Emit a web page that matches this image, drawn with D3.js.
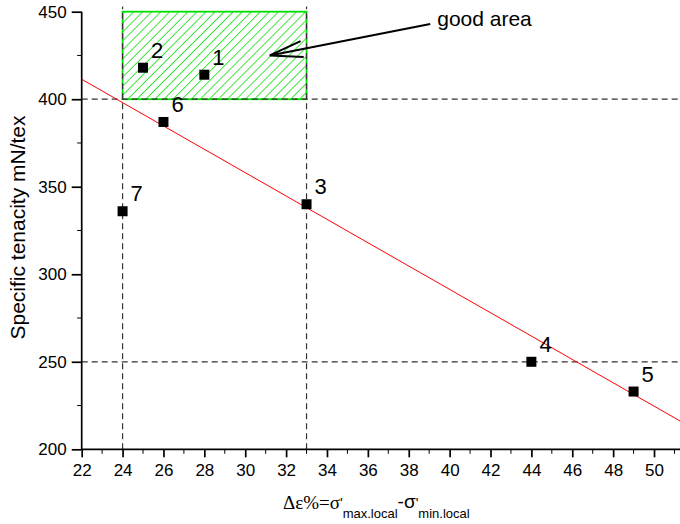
<!DOCTYPE html>
<html>
<head>
<meta charset="utf-8">
<script src="https://cdn.jsdelivr.net/npm/d3@7"></script>
<style>
  body { margin: 0; background: #fff; }
  svg { display: block; font-family: Arial, "Liberation Sans", sans-serif; }
</style>
</head>
<body>
<div id="chart"></div>
<script>
// data
var sampleIds = ["1", "2", "3", "4", "5", "6", "7"];
var strainDiff = [28, 25, 33, 44, 49, 26, 24];
var tenacity = [414, 418, 340, 250, 233, 387, 336];

// fitted red line, two end points [x, y]
var fitStart = [22, 411.4];
var fitEnd = [51.3, 216];

// guide lines
var guideX = [24, 33];
var guideY = [400, 250];

// "good area" box [x0, x1, y0, y1]
var goodBox = [24, 33, 400, 450];
var arrowTail = [39.05, 443];
var arrowTip = [31.2, 425];
var noteText = "good area";

var xTicks = d3.range(22, 51, 2);
var xMinor = d3.range(23, 52, 2);
var yTicks = [200, 250, 300, 350, 400, 450];
var yMinor = [225, 275, 325, 375, 425];

function init() {
    var width = 680;
    var height = 524;

    var x = d3.scaleLinear().domain([22, 51.3]).range([81.7, 680.6]);
    var y = d3.scaleLinear().domain([200, 450]).range([449.3, 11.7]);

    var svg = d3.select("#chart")
        .append("svg")
        .attr("width", width)
        .attr("height", height);

    // hatch for the good area
    var pat = svg.append("defs").append("pattern")
        .attr("id", "hatch")
        .attr("patternUnits", "userSpaceOnUse")
        .attr("width", 6.4)
        .attr("height", 6.4)
        .attr("patternTransform", "rotate(45)");
    pat.append("line")
        .attr("x1", 0).attr("y1", 0)
        .attr("x2", 0).attr("y2", 6.4)
        .attr("stroke", "#00e000")
        .attr("stroke-width", 1.5);

    svg.append("rect")
        .attr("x", x(goodBox[0]))
        .attr("y", y(goodBox[3]))
        .attr("width", x(goodBox[1]) - x(goodBox[0]))
        .attr("height", y(goodBox[2]) - y(goodBox[3]))
        .attr("fill", "url(#hatch)")
        .attr("stroke", "#00e000")
        .attr("stroke-width", 1.8);

    // dashed guides
    svg.selectAll(".vguide")
        .data(guideX)
        .enter()
        .append("line")
        .attr("x1", function (d) { return x(d); })
        .attr("x2", function (d) { return x(d); })
        .attr("y1", y(200))
        .attr("y2", y(453))
        .attr("stroke", "#333")
        .attr("stroke-width", 1.2)
        .attr("stroke-dasharray", "6,4");

    svg.selectAll(".hguide")
        .data(guideY)
        .enter()
        .append("line")
        .attr("x1", x(22))
        .attr("x2", x(51.3))
        .attr("y1", function (d) { return y(d); })
        .attr("y2", function (d) { return y(d); })
        .attr("stroke", "#333")
        .attr("stroke-width", 1.2)
        .attr("stroke-dasharray", "6,4");

    // fitted line
    svg.append("line")
        .attr("x1", x(fitStart[0])).attr("y1", y(fitStart[1]))
        .attr("x2", x(fitEnd[0])).attr("y2", y(fitEnd[1]))
        .attr("stroke", "#ff0000")
        .attr("stroke-width", 1);

    // axes
    var xAxis = d3.axisBottom(x).tickValues(xTicks).tickSize(8).tickPadding(5);
    var yAxis = d3.axisLeft(y).tickValues(yTicks).tickSize(10).tickPadding(5);

    var gx = svg.append("g")
        .attr("transform", "translate(0," + y(200) + ")")
        .call(xAxis);
    gx.select(".domain").attr("d", "M" + x(22) + ",0H" + x(51.3));
    gx.selectAll(".tick").filter(function (d) { return d === 22; }).select("line").attr("y1", 0);
    gx.selectAll("text").attr("font-size", 17).attr("font-family", "Arial, 'Liberation Sans', sans-serif").attr("dy", "0.8em");

    gx.selectAll(".minor")
        .data(xMinor)
        .enter()
        .append("line")
        .attr("x1", function (d) { return x(d); })
        .attr("x2", function (d) { return x(d); })
        .attr("y1", 0)
        .attr("y2", 4.5)
        .attr("stroke", "#000");

    var gy = svg.append("g")
        .attr("transform", "translate(" + x(22) + ",0)")
        .call(yAxis);
    gy.select(".domain").attr("d", "M0," + y(200) + "V" + y(450));
    gy.selectAll("text").attr("font-size", 17).attr("font-family", "Arial, 'Liberation Sans', sans-serif");

    gy.selectAll(".minor")
        .data(yMinor)
        .enter()
        .append("line")
        .attr("y1", function (d) { return y(d); })
        .attr("y2", function (d) { return y(d); })
        .attr("x1", 0)
        .attr("x2", -4.5)
        .attr("stroke", "#000");

    svg.selectAll(".domain, .tick line, .minor").attr("stroke-width", 1.7);

    // points
    var pts = sampleIds.map(function (id, i) {
        return { id: id, x: strainDiff[i], y: tenacity[i] };
    });

    svg.selectAll(".pt")
        .data(pts)
        .enter()
        .append("rect")
        .attr("class", "pt")
        .attr("x", function (d) { return x(d.x) - 5; })
        .attr("y", function (d) { return y(d.y) - 5; })
        .attr("width", 10)
        .attr("height", 10)
        .attr("fill", "#000");

    svg.selectAll(".ptlabel")
        .data(pts)
        .enter()
        .append("text")
        .attr("x", function (d) { return x(d.x) + 8; })
        .attr("y", function (d) { return y(d.y) - 10; })
        .attr("font-size", 22)
        .text(function (d) { return d.id; });

    // arrow + note
    var t0 = [x(arrowTail[0]), y(arrowTail[1])];
    var t1 = [x(arrowTip[0]), y(arrowTip[1])];
    var ang = Math.atan2(t0[1] - t1[1], t0[0] - t1[0]);
    var headLen = 34, spread = 0.24;
    svg.append("path")
        .attr("d", "M" + t0 + "L" + t1 +
            "M" + [t1[0] + headLen * Math.cos(ang - spread), t1[1] + headLen * Math.sin(ang - spread)] +
            "L" + t1 +
            "L" + [t1[0] + headLen * Math.cos(ang + spread), t1[1] + headLen * Math.sin(ang + spread)])
        .attr("fill", "none")
        .attr("stroke", "#000")
        .attr("stroke-width", 2);

    svg.append("text")
        .attr("x", t0[0] + 7)
        .attr("y", 25.5)
        .attr("font-size", 21)
        .text(noteText);

    // axis titles
    svg.append("text")
        .attr("transform", "translate(25," + ((y(200) + y(450)) / 2 - 3) + ") rotate(-90)")
        .attr("text-anchor", "middle")
        .attr("font-size", 21)
        .text("Specific tenacity mN/tex");

    var xt = svg.append("text")
        .attr("x", 283)
        .attr("y", 508.5);
    xt.append("tspan").attr("font-family", "'Liberation Serif', 'Times New Roman', serif").attr("font-size", 19).text("Δε%=σ");
    xt.append("tspan").attr("font-size", 14).attr("dy", -1).text("'");
    xt.append("tspan").attr("font-size", 13).attr("dy", 10).text("max.local");
    xt.append("tspan").attr("font-size", 19).attr("dy", -10).text("-σ");
    xt.append("tspan").attr("font-size", 14).attr("dy", 0).text("'");
    xt.append("tspan").attr("font-size", 13).attr("dy", 10).text("min.local");
}

window.onload = init;
</script>
</body>
</html>
